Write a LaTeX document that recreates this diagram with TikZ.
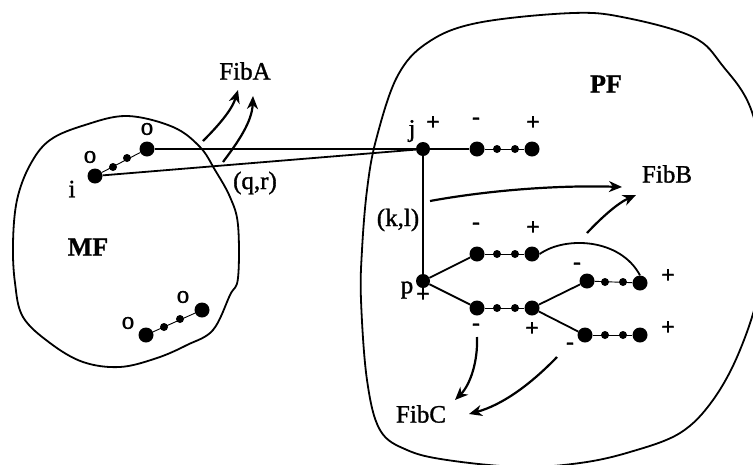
\documentclass[tikz,border=0pt]{standalone}
\usepackage{fontspec}
\setmainfont{Liberation Serif}
\newfontfamily\heavyserif{Liberation Serif}[FakeBold=1.2]
\newfontfamily\heavybold{Liberation Serif Bold}[FakeBold=1.0]
\usetikzlibrary{arrows.meta}
\begin{document}
\begin{tikzpicture}[x=1pt,y=-1pt,
  big/.style={circle,fill=black,inner sep=0pt,minimum size=15pt},
  small/.style={circle,fill=black,inner sep=0pt,minimum size=8pt},
  txt/.style={font=\heavyserif\fontsize{25}{28}\selectfont,inner sep=0pt},
  sgn/.style={font=\heavybold\fontsize{24}{26}\selectfont,inner sep=0pt},
  region/.style={font=\heavybold\fontsize{26}{28}\selectfont,inner sep=0pt},
  outline/.style={line width=1.8pt},
  link/.style={line width=1.8pt},
  chain/.style={line width=0.9pt},
  fib/.style={line width=2.2pt,-{Stealth[length=13pt,width=11pt,inset=4pt]}}
]
\useasboundingbox (0,0) rectangle (753,464);
\clip (0,0) rectangle (753,464);

% region outlines
\draw[outline] plot[smooth cycle,tension=0.6] coordinates {
  (127,116) (173,127) (200,147) (215,170) (230,197) (238,225) (238,278)
  (230,295) (213,330) (187,345) (157,358) (120,367) (83,362) (50,343)
  (23,317) (15,283) (13,243) (17,200) (30,165) (50,140) (85,125)};
\draw[outline] plot[smooth cycle,tension=0.6] coordinates {
  (477,23) (573,13) (627,18) (693,37) (722,65) (752,112) (768,200)
  (760,285) (740,350) (713,400) (680,433) (630,452) (580,463) (520,467)
  (447,460) (407,450) (380,430) (367,380) (361,300) (362,250) (367,190)
  (376,140) (397,77) (427,43)};

\node[region] (mf) at (88,247) {MF};
\node[region] (pf) at (606,84) {PF};

% upper chain in MF
\node[big]   (i)  at (95,176) {};
\node[small] (i2) at (113,167) {};
\node[small] (i3) at (127,158) {};
\node[big]   (o)  at (147,149) {};
\draw[chain] (i) -- (o);
\node[txt] at (72,189) {i};
\node[txt] at (90,157) {o};
\node[txt] at (147,129) {o};

% lower chain in MF
\node[big]   (b1) at (146,335) {};
\node[small] (b2) at (164,327) {};
\node[small] (b3) at (180,319) {};
\node[big]   (b4) at (202,310) {};
\draw[chain] (b1) -- (b4);
\node[txt] at (128,323) {o};
\node[txt] at (183,297) {o};

% node j and its chain
\node[circle,fill=black,inner sep=0pt,minimum size=14pt] (j) at (423,149) {};
\node[big]   (r1) at (477,149) {};
\node[small] (r2) at (497,149) {};
\node[small] (r3) at (515,149) {};
\node[big]   (r4) at (532,149) {};
\draw[link] (j) -- (r1);
\draw[chain] (r1) -- (r4);
\node[txt] at (412,131) {j};
\node[sgn] at (433,123) {+};
\node[sgn] at (476,121) {-};
\node[sgn] at (533,123) {+};

% links from MF to j
\draw[link] (o) -- (j);
\draw[link] (i) -- (j);
\node[txt] at (255,183) {(q,r)};

% node p
\node[circle,fill=black,inner sep=0pt,minimum size=14pt] (p) at (423,281) {};
\draw[link] (j) -- (p);
\node[txt] at (398,220) {(k,l)};
\node[txt] at (407,290) {p};
\node[sgn] at (423,295) {+};

% upper branch from p
\node[big]   (u1) at (477,254) {};
\node[small] (u2) at (497,254) {};
\node[small] (u3) at (515,254) {};
\node[big]   (u4) at (532,254) {};
\draw[link] (p) -- (u1);
\draw[chain] (u1) -- (u4);
\node[sgn] at (476,226) {-};
\node[sgn] at (533,228) {+};

% lower branch from p
\node[big]   (d1) at (477,308) {};
\node[small] (d2) at (497,308) {};
\node[small] (d3) at (515,308) {};
\node[big]   (d4) at (532,308) {};
\draw[link] (p) -- (d1);
\draw[chain] (d1) -- (d4);
\node[sgn] at (476,327) {-};
\node[sgn] at (532,329) {+};

% branches from d4
\node[big]   (m1) at (587,281) {};
\node[small] (m2) at (605,282) {};
\node[small] (m3) at (623,282) {};
\node[big]   (m4) at (640,283) {};
\draw[link] (d4) -- (m1);
\draw[chain] (m1) -- (m4);
\node[sgn] at (577,266) {-};
\node[sgn] at (668,276) {+};

\node[big]   (n1) at (585,335) {};
\node[small] (n2) at (605,335) {};
\node[small] (n3) at (623,335) {};
\node[big]   (n4) at (640,335) {};
\draw[link] (d4) -- (n1);
\draw[chain] (n1) -- (n4);
\node[sgn] at (668,328) {+};
\node[sgn] at (570,346) {-};

% arc from u4 to m4
\draw[link] (u4.east) .. controls (565,236) and (620,238) .. (m4.north);

% labels of fibres
\node[txt] (fiba) at (245,71) {FibA};
\node[txt] (fibb) at (667,174) {FibB};
\node[txt] (fibc) at (421,414) {FibC};

% fibre arrows
\coordinate (a1s) at (203,141);
\coordinate (a1e) at (238,90);
\coordinate (a2s) at (223,162);
\coordinate (a2e) at (253,96);
\draw[fib] (a1s) .. controls (218,126) and (232,110) .. (a1e);
\draw[fib] (a2s) .. controls (238,142) and (252,122) .. (a2e);

\coordinate (b1s) at (430,201);
\coordinate (b1e) at (622,187);
\coordinate (b2s) at (587,233);
\coordinate (b2e) at (636,195);
\draw[fib] (b1s) .. controls (490,190) and (560,185) .. (b1e);
\draw[fib] (b2s) .. controls (602,217) and (618,203) .. (b2e);

\coordinate (c1s) at (477,337);
\coordinate (c1e) at (455,400);
\coordinate (c2s) at (557,357);
\coordinate (c2e) at (469,414);
\draw[fib] (c1s) .. controls (478,362) and (470,385) .. (c1e);
\draw[fib] (c2s) .. controls (530,385) and (502,405) .. (c2e);
\end{tikzpicture}
\end{document}
